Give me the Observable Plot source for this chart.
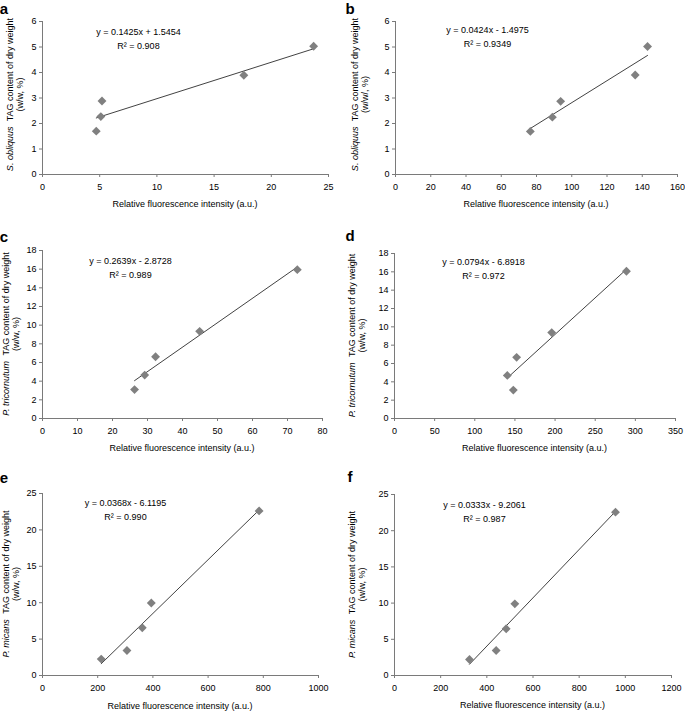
<!DOCTYPE html>
<html>
<head>
<meta charset="utf-8">
<script src="https://cdn.jsdelivr.net/npm/d3@7"></script>
<script src="https://cdn.jsdelivr.net/npm/@observablehq/plot@0.6"></script>
<style>
  html, body { margin: 0; padding: 0; background: #fff; overflow: hidden; }
  #root { position: relative; width: 685px; height: 712px; background: #fff; }
  .panel { position: absolute; }
  .panel svg { overflow: visible; }
</style>
</head>
<body>
<div id="root"></div>
<script>
// ---------- data ----------
const aFluor = [4.7, 5.1, 5.2, 17.6, 23.7];
const aTag   = [1.7, 2.27, 2.88, 3.89, 5.03];
const bFluor = [76.5, 89, 93.7, 136, 143];
const bTag   = [1.69, 2.25, 2.87, 3.9, 5.02];
const cFluor = [26.3, 29.2, 32.3, 44.9, 72.8];
const cTag   = [3.1, 4.65, 6.62, 9.34, 15.95];
const dFluor = [140.5, 148, 152.1, 195.8, 288.9];
const dTag   = [4.7, 3.1, 6.67, 9.37, 16.07];
const eFluor = [212.8, 306, 361.5, 394.2, 784.8];
const eTag   = [2.25, 3.44, 6.56, 9.95, 22.61];
const fFluor = [324.9, 440.4, 483.8, 521.3, 957.4];
const fTag   = [2.21, 3.45, 6.45, 9.9, 22.56];

const xTicksA = [0, 5, 10, 15, 20, 25];
const xTicksB = [0, 20, 40, 60, 80, 100, 120, 140, 160];
const xTicksC = [0, 10, 20, 30, 40, 50, 60, 70, 80];
const xTicksD = [0, 50, 100, 150, 200, 250, 300, 350];
const xTicksE = [0, 200, 400, 600, 800, 1000];
const xTicksF = [0, 200, 400, 600, 800, 1000, 1200];
const yTicksAB = [0, 1, 2, 3, 4, 5, 6];
const yTicksCD = [0, 2, 4, 6, 8, 10, 12, 14, 16, 18];
const yTicksEF = [0, 5, 10, 15, 20, 25];

const panelLetters = ["a", "b", "c", "d", "e", "f"];
const equations = ["y = 0.1425x + 1.5454", "y = 0.0424x - 1.4975", "y = 0.2639x - 2.8728",
                   "y = 0.0794x - 6.8918", "y = 0.0368x - 6.1195", "y = 0.0333x - 9.2061"];
const rSquared = ["R² = 0.908", "R² = 0.9349", "R² = 0.989", "R² = 0.972", "R² = 0.990", "R² = 0.987"];
const species = ["S. obliquus", "S. obliquus", "P. tricornutum", "P. tricornutum", "P. micans", "P. micans"];
const units = ["(w/w, %)", "(w/w/, %)", "(w/w, %)", "(w/w, %)", "(w/w, %)", "(w/w, %)"];
const yLabelRest = "TAG content of dry weight";
const xLabel = "Relative fluorescence intensity (a.u.)";

// ---------- layout / style ----------
const FONT = "'Liberation Sans', Arial, Helvetica, sans-serif";
const AXIS = "#7a7a7a";
const MARKER = "#808080";

const panels = [
  {x: aFluor, y: aTag, xt: xTicksA, yt: yTicksAB, left: 0,   top: 0,   w: 342, h: 230,
   m: [21, 14, 56, 42], eq: [96, 4], ly: [10, 20], ybias: -3, letter: [4, 14], xl: 30},
  {x: bFluor, y: bTag, xt: xTicksB, yt: yTicksAB, left: 342, top: 0,   w: 343, h: 230,
   m: [21, 8, 56, 53], eq: [92, 2], ly: [12.5, 22.5], ybias: -3, letter: [8, 14], xl: 30},
  {x: cFluor, y: cTag, xt: xTicksC, yt: yTicksCD, left: 0,   top: 230, w: 342, h: 240,
   m: [20, 20, 52, 42], eq: [88, 4], ly: [5.5, 16], ybias: 0, letter: [4, 12], xl: 30},
  {x: dFluor, y: dTag, xt: xTicksD, yt: yTicksCD, left: 342, top: 230, w: 343, h: 240,
   m: [23, 10, 52, 52], eq: [89, 2], ly: [10, 19.5], ybias: 0, letter: [8, 11], xl: 30},
  {x: eFluor, y: eTag, xt: xTicksE, yt: yTicksEF, left: 0,   top: 470, w: 342, h: 242,
   m: [23, 24, 37, 42], eq: [83, 3], ly: [5.5, 15.5], ybias: 0, letter: [4, 13], xl: 31},
  {x: fFluor, y: fTag, xt: xTicksF, yt: yTicksEF, left: 342, top: 470, w: 343, h: 242,
   m: [24, 14, 37, 52], eq: [90, 4], ly: [10, 19.5], ybias: 0, letter: [8, 12], xl: 30}
];

const root = document.getElementById("root");

panels.forEach((p, i) => {
  const data = p.x.map((v, k) => ({fluor: v, tag: p.y[k]}));
  const [mt, mr, mb, ml] = p.m;
  const plot = Plot.plot({
    width: p.w,
    height: p.h,
    marginTop: mt, marginRight: mr, marginBottom: mb, marginLeft: ml,
    style: {fontFamily: FONT, fontSize: "9px", color: "#000", background: "transparent", overflow: "visible"},
    x: {domain: [p.xt[0], p.xt[p.xt.length - 1]], label: null},
    y: {domain: [p.yt[0], p.yt[p.yt.length - 1]], label: null},
    marks: [
      Plot.axisX({ticks: p.xt, tickSize: 3, tickPadding: 6, stroke: AXIS, fill: "#000",
                  tickFormat: d => String(d), label: null}),
      Plot.axisY({ticks: p.yt, tickSize: 3, tickPadding: 3, stroke: AXIS, fill: "#000",
                  tickFormat: d => String(d), label: null}),
      Plot.ruleX([p.xt[0]], {stroke: AXIS, strokeWidth: 1}),
      Plot.ruleY([p.yt[0]], {stroke: AXIS, strokeWidth: 1}),
      Plot.linearRegressionY(data, {x: "fluor", y: "tag", ci: 0, stroke: "#111", strokeWidth: 0.8}),
      Plot.dot(data, {x: "fluor", y: "tag", symbol: "diamond2", r: 4, fill: MARKER, stroke: "none"}),
      Plot.text([equations[i] + "\n" + rSquared[i]], {
        text: d => d, frameAnchor: "top-left", dx: p.eq[0], dy: p.eq[1],
        textAnchor: "middle", lineAnchor: "top", lineHeight: 1.5, fontSize: 9, fill: "#000"
      })
    ]
  });

  const svg = d3.select(plot);
  const frameMidY = mt + (p.h - mt - mb) / 2 + p.ybias;
  const frameMidX = ml + (p.w - ml - mr) / 2;

  // y-axis label, line 1 (italic species name)
  const t1 = svg.append("text")
    .attr("transform", `translate(${p.ly[0]},${frameMidY}) rotate(-90)`)
    .attr("text-anchor", "middle")
    .attr("dominant-baseline", "central")
    .style("font-family", FONT).style("font-size", "9px").attr("fill", "#000");
  t1.append("tspan").style("font-style", "italic").text(species[i]);
  t1.append("tspan").attr("dx", 3).text(" " + yLabelRest);

  // y-axis label, line 2
  svg.append("text")
    .attr("transform", `translate(${p.ly[1]},${frameMidY}) rotate(-90)`)
    .attr("text-anchor", "middle")
    .attr("dominant-baseline", "central")
    .style("font-family", FONT).style("font-size", "9px").attr("fill", "#000")
    .text(units[i]);

  // x-axis label
  svg.append("text")
    .attr("x", frameMidX)
    .attr("y", p.h - mb + p.xl)
    .attr("text-anchor", "middle")
    .attr("dominant-baseline", "central")
    .style("font-family", FONT).style("font-size", "9px").attr("fill", "#000")
    .text(xLabel);

  // panel letter
  svg.append("text")
    .attr("x", p.letter[0])
    .attr("y", p.letter[1])
    .style("font-family", FONT).style("font-size", "15px").style("font-weight", "bold")
    .attr("fill", "#000")
    .text(panelLetters[i]);

  const div = document.createElement("div");
  div.className = "panel";
  div.style.left = p.left + "px";
  div.style.top = p.top + "px";
  div.appendChild(plot);
  root.appendChild(div);
});
</script>
</body>
</html>
